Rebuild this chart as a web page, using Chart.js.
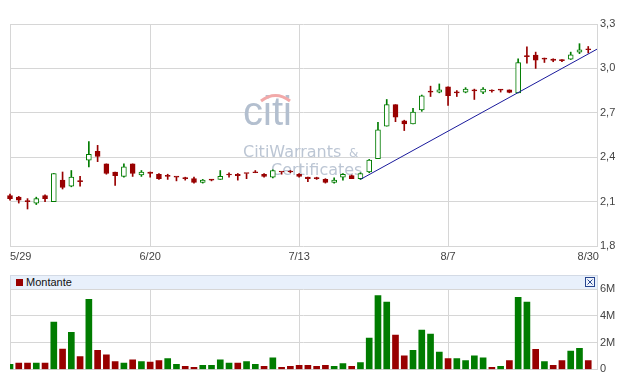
<!DOCTYPE html>
<html>
<head>
<meta charset="utf-8">
<script src="https://cdn.jsdelivr.net/npm/chart.js@4.4.0/dist/chart.umd.min.js"></script>
<style>
html,body{margin:0;padding:0;background:#fff;width:617px;height:379px;overflow:hidden;font-family:"Liberation Sans",Arial,sans-serif;}
#top{position:absolute;left:0;top:0;}
#vol{position:absolute;left:0;top:262px;}
#hdr{position:absolute;left:10px;top:275px;width:588px;height:14px;background:#e8f0fb;border:1px solid #d3dae5;border-bottom:none;box-sizing:border-box;}
#hdr .sq{position:absolute;left:5px;top:3px;width:7px;height:7px;background:#990000;}
#hdr .lbl{position:absolute;left:15px;top:0px;font-size:11px;line-height:13px;color:#111;}
#hdr .x{position:absolute;left:574px;top:1px;width:10px;height:10px;}
</style>
</head>
<body>
<canvas id="top" width="617" height="262"></canvas>
<canvas id="vol" width="617" height="117"></canvas>
<div id="hdr"><div class="sq"></div><div class="lbl">Montante</div>
<svg class="x" width="10" height="10" viewBox="0 0 10 10"><rect x="0.5" y="0.5" width="9" height="9" fill="#eef3fb" stroke="#27458f" stroke-width="1"/><path d="M2.5 2.5 L7.5 7.5 M7.5 2.5 L2.5 7.5" stroke="#27458f" stroke-width="1"/></svg>
</div>
<script>
// ---- data ----
const dates = ['5/29','5/30','5/31','6/1','6/4','6/5','6/6','6/7','6/8','6/11','6/12','6/13','6/14','6/15','6/18','6/19','6/20',
 '6/21','6/22','6/25','6/26','6/27','6/28','6/29','7/2','7/3','7/4','7/5','7/6','7/9','7/10','7/11','7/12','7/13',
 '7/16','7/17','7/18','7/19','7/20','7/23','7/24','7/25','7/26','7/27','7/30','7/31','8/1','8/2','8/3','8/6','8/7',
 '8/8','8/9','8/10','8/13','8/14','8/16','8/17','8/20','8/21','8/22','8/23','8/24','8/27','8/28','8/29','8/30',''];
const shownDates = ['5/29','6/20','7/13','8/7','8/30'];

const opens  = [2.14,2.13,2.10,2.09,2.14,2.10,2.245,2.205,2.235,2.38,2.44,2.355,2.30,2.27,2.355,2.28,2.30,
 2.285,2.27,2.265,2.255,2.255,2.23,2.245,2.25,2.28,2.285,2.29,2.295,2.285,2.265,2.30,2.30,2.285,
 2.265,2.255,2.25,2.23,2.265,2.275,2.255,2.30,2.39,2.61,2.755,2.645,2.625,2.72,2.84,2.84,2.875,
 2.835,2.84,2.855,2.84,2.847,2.855,2.855,2.835,3.08,3.09,3.07,3.063,3.052,3.063,3.11,3.126];
const highs  = [2.15,2.135,2.12,2.13,2.145,2.29,2.30,2.31,2.27,2.505,2.48,2.355,2.30,2.355,2.355,2.31,2.30,
 2.29,2.285,2.265,2.265,2.265,2.25,2.25,2.31,2.295,2.29,2.29,2.31,2.29,2.315,2.30,2.31,2.29,
 2.265,2.265,2.255,2.26,2.29,2.28,2.295,2.385,2.635,2.79,2.755,2.65,2.73,2.82,2.88,2.895,2.875,
 2.85,2.87,2.86,2.87,2.855,2.857,2.855,3.065,3.145,3.11,3.07,3.065,3.06,3.11,3.167,3.148];
const lows   = [2.11,2.09,2.05,2.08,2.10,2.10,2.185,2.20,2.205,2.335,2.37,2.285,2.21,2.265,2.27,2.27,2.265,
 2.25,2.25,2.24,2.245,2.225,2.225,2.24,2.25,2.265,2.245,2.255,2.295,2.265,2.26,2.285,2.295,2.265,
 2.235,2.25,2.225,2.225,2.245,2.255,2.25,2.295,2.39,2.61,2.64,2.58,2.625,2.71,2.81,2.835,2.75,
 2.81,2.835,2.79,2.83,2.84,2.84,2.835,2.835,3.035,3.0,3.04,3.045,3.045,3.06,3.10,3.104];
const closes = [2.12,2.11,2.10,2.12,2.12,2.29,2.195,2.265,2.235,2.42,2.405,2.29,2.275,2.335,2.29,2.30,2.29,
 2.255,2.27,2.265,2.255,2.23,2.245,2.245,2.27,2.28,2.275,2.29,2.295,2.27,2.31,2.30,2.30,2.27,
 2.255,2.255,2.23,2.245,2.285,2.255,2.29,2.38,2.585,2.755,2.67,2.625,2.705,2.815,2.84,2.855,2.815,
 2.835,2.86,2.848,2.86,2.847,2.853,2.837,3.04,3.08,3.055,3.063,3.054,3.052,3.092,3.126,3.126];

// volume in millions
const volumes = [0.38,0.47,0.47,0.47,0.47,3.54,1.52,2.77,0.96,5.23,1.43,1.08,0.58,0.47,0.72,0.58,0.54,0.65,0.80,0.37,0.23,0.16,0.30,0.30,
 0.72,0.47,0.47,0.58,0.37,0.23,0.87,0.16,0.23,0.30,0.30,0.23,0.30,0.23,0.44,0.23,0.51,2.34,5.51,5.02,2.56,1.01,
 1.43,2.93,2.63,1.29,0.80,0.80,0.65,1.01,0.87,0.16,0.23,0.65,5.37,5.02,1.50,0.58,0.30,0.65,1.36,1.57,0.65];
const volumeUp = [1,0,0,1,0,1,0,1,0,1,0,0,0,1,0,1,0,0,1,1,0,0,1,1,
 1,1,0,1,1,0,1,0,0,0,0,0,0,1,1,0,1,1,1,1,0,0,
 1,1,1,1,0,1,1,1,1,0,1,0,1,1,0,1,0,0,1,1,0];

// trend line (category index, price)
const trendIdx = [40, 67];
const trendVal = [2.25, 3.13];

const priceTicks = [1.8, 3.3, 0.3];   // min, max, step
const volTicks = [0, 6, 2];           // millions

// ---- styles ----
const GREEN = '#007c00', RED = '#980000', GRID = '#d6d6d6', TXT = '#444';
const FONT = {family:'"Liberation Sans", Arial, sans-serif', size:11};
const gridIdx = new Set(shownDates.map(d => dates.indexOf(d)).concat([dates.length-1]));
gridIdx.delete(dates.indexOf('8/30'));

const isUp = i => closes[i] > opens[i];

const watermark = {
  id:'wm',
  beforeDatasetsDraw(chart){
    const c = chart.ctx;
    c.save();
    c.fillStyle = '#b3bfcf';
    c.font = '40px "Liberation Sans", Arial, sans-serif';
    c.textBaseline = 'alphabetic';
    c.fillText('citi', 243, 125);
    c.strokeStyle = '#f2a9a9';
    c.lineWidth = 3;
    c.beginPath();
    c.moveTo(261, 101);
    c.quadraticCurveTo(275.5, 90, 290, 101);
    c.stroke();
    c.fillStyle = '#bcc6d4';
    c.font = '16px "DejaVu Sans", sans-serif';
    c.fillText('CitiWarrants', 243, 157);
    c.font = '12px "DejaVu Sans", sans-serif';
    c.fillText('&', 349, 157);
    c.font = '16px "DejaVu Sans", sans-serif';
    c.fillText('Certificates', 271, 175);
    c.restore();
  }
};

const xGrid = {
  offset:false,
  drawTicks:false,
  color: ctx => gridIdx.has(ctx.index) ? GRID : 'rgba(0,0,0,0)',
  lineWidth:1
};

const trendData = dates.map((d,i) => {
  const k = trendIdx.indexOf(i);
  return k >= 0 ? trendVal[k] : null;
});

new Chart(document.getElementById('top'), {
  type:'bar',
  data:{
    labels: dates,
    datasets:[
      {
        type:'line',
        data: trendData,
        spanGaps:true,
        borderColor:'#1a1a9c', borderWidth:1, pointRadius:0, fill:false, tension:0
      },
      {
        data: opens.map((o,i) => [o, closes[i]]),
        backgroundColor: opens.map((o,i) => isUp(i) ? '#ffffff' : RED),
        borderColor: opens.map((o,i) => isUp(i) ? GREEN : RED),
        borderWidth:1, borderSkipped:false, barThickness:5, minBarLength:1,
        grouped:false, clip:false
      },
      {
        data: lows.map((l,i) => [l, highs[i]]),
        backgroundColor: lows.map((l,i) => isUp(i) ? GREEN : RED),
        borderWidth:0, barThickness:1, minBarLength:1, grouped:false, clip:false
      }
    ]
  },
  options:{
    responsive:false, animation:false, devicePixelRatio:1,
    layout:{padding:{left:10, top:24, right:0, bottom:0}},
    plugins:{legend:{display:false}, tooltip:{enabled:false}},
    scales:{
      x:{
        type:'category', offset:false,
        grid: xGrid,
        border:{display:false},
        ticks:{autoSkip:false, maxRotation:0, minRotation:0, align:'inner', padding:4, font:FONT, color:TXT,
          callback:(v,i) => shownDates.includes(dates[i]) ? dates[i] : ''},
        afterFit: s => { s.height = 16; }
      },
      y:{
        position:'right', min:priceTicks[0], max:priceTicks[1],
        grid:{color:GRID, drawTicks:false},
        border:{display:true, color:GRID},
        ticks:{stepSize:priceTicks[2], padding:3, font:FONT, color:TXT,
          callback: v => v.toFixed(1).replace('.', ',')},
        afterFit: s => { s.width = 20; }
      }
    }
  },
  plugins:[watermark]
});

new Chart(document.getElementById('vol'), {
  type:'bar',
  data:{
    labels: dates,
    datasets:[{
      data: volumes,
      backgroundColor: volumeUp.map(u => u ? GREEN : RED),
      borderWidth:0, barThickness:6
    }]
  },
  options:{
    responsive:false, animation:false, devicePixelRatio:1,
    layout:{padding:{left:10, top:27, right:0, bottom:0}},
    plugins:{legend:{display:false}, tooltip:{enabled:false}},
    scales:{
      x:{
        type:'category', offset:false,
        grid: xGrid,
        border:{display:false},
        ticks:{display:false},
        afterFit: s => { s.height = 5; }
      },
      y:{
        position:'right', min:volTicks[0], max:volTicks[1],
        grid:{color:GRID, drawTicks:false},
        border:{display:true, color:GRID},
        ticks:{stepSize:volTicks[2], padding:3, font:FONT, color:TXT,
          callback: v => v === 0 ? '0' : v + 'M'},
        afterFit: s => { s.width = 20; }
      }
    }
  }
});
</script>
</body>
</html>
